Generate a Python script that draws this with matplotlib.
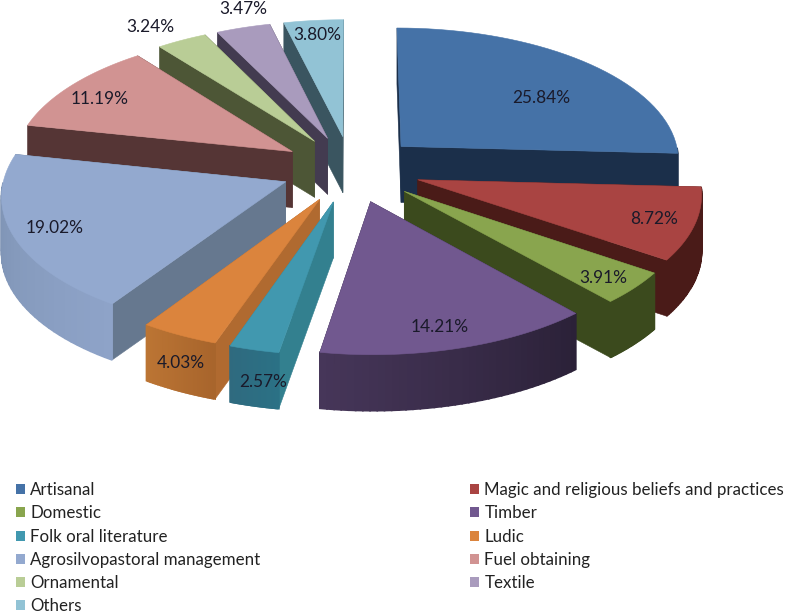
import numpy as np
import matplotlib
matplotlib.use("Agg")
import matplotlib.pyplot as plt
from matplotlib.patches import Patch, Polygon

plt.rcParams['font.family'] = ['Lato', 'DejaVu Sans']

# Data
categories = ["Artisanal", "Magic and religious beliefs and practices", "Domestic", "Timber",
              "Folk oral literature", "Ludic", "Agrosilvopastoral management", "Fuel obtaining",
              "Ornamental", "Textile", "Others"]
values = [25.84, 8.72, 3.91, 14.21, 2.57, 4.03, 19.02, 11.19, 3.24, 3.47, 3.80]

# Colours: top face, radial side, curved side (two ends)
top_colors = ['#4572A7', '#A94442', '#89A54E', '#71588F', '#4198AF', '#DB843D',
              '#93A9CF', '#D19392', '#B9CD96', '#A99BBD', '#92C3D5']
side_colors = ['#1B2F4A', '#4A1B18', '#3B4A1D', '#2E2440', '#33808F', '#B06A30',
               '#66788F', '#553535', '#4D5636', '#433B50', '#3A5560']
curve_a = ['#1B2F4A', '#4A1B18', '#3B4A1D', '#2B2138', '#2B7185', '#A8652C',
           '#8EA3C8', '#553535', '#4D5636', '#433B50', '#3A5560']
curve_b = ['#1B2F4A', '#4A1B18', '#3B4A1D', '#463659', '#2F6A7F', '#BC7534',
           '#7A8FAE', '#553535', '#4D5636', '#433B50', '#3A5560']
label_r = [0.68, 0.70, 0.80, 0.62, 0.85, 0.90, 0.72, 0.72, 1.10, 1.06, 0.85]
label_z = [0, 0, 0, 0, 0.5, 0.5, 0, 0, 0, 0, 0]
label_dx = [12, 44, 17, 16, -4, -14, -37, -31, -19, 5, 0]
label_dy = [9, 8, 10, 38, 28, 15, 8, -5, -4, -13, -2]

# Projection of the exploded 3D pie
cx, cy = 351, 169
rx, ry = 280, 133
persp = 0.09
depth = 56
explode = 0.25


def project(px, py, z=0.0):
    s = 1.0 / (1.0 - persp * py)
    return cx + rx * px * s, cy + ry * py * s + depth * z


def mix(c1, c2, t):
    a = np.array(matplotlib.colors.to_rgb(c1))
    b = np.array(matplotlib.colors.to_rgb(c2))
    return a + (b - a) * t


fig = plt.figure(figsize=(7.87, 6.13), dpi=100)
ax = fig.add_axes([0, 0, 1, 1])
ax.set_xlim(0, 787)
ax.set_ylim(613, 0)
ax.axis('off')

fractions = np.array(values) / sum(values)
ends = np.cumsum(fractions) * 2 * np.pi
starts = ends - fractions * 2 * np.pi
mids = (starts + ends) / 2


def add_face(points, color, lw=0.4):
    ax.add_patch(Polygon(points, closed=True, facecolor=color, edgecolor=color, linewidth=lw))


order = np.argsort(-np.cos(mids))
for i in order:
    ox, oy = explode * np.sin(mids[i]), -explode * np.cos(mids[i])
    angles = np.linspace(starts[i], ends[i], 40)
    rim = np.column_stack([ox + np.sin(angles), oy - np.cos(angles)])

    # walls first, those further back are covered by the ones in front
    walls = []
    for p, q in [((ox, oy), rim[0]), ((ox, oy), rim[-1])]:
        walls.append(((p[1] + q[1]) / 2, [project(p[0], p[1]), project(q[0], q[1]),
                                          project(q[0], q[1], 1), project(p[0], p[1], 1)], side_colors[i], 0.4))
    for j in range(len(rim) - 1):
        # the back of the rim is never seen
        if np.cos((angles[j] + angles[j + 1]) / 2) > 0.0:
            continue
        p, q = rim[j], rim[j + 1]
        walls.append(((p[1] + q[1]) / 2, [project(p[0], p[1]), project(q[0], q[1]),
                                          project(q[0], q[1], 1), project(p[0], p[1], 1)],
                      mix(curve_a[i], curve_b[i], j / (len(rim) - 2)), 1.2))
    for _, pts, col, lw in sorted(walls, key=lambda w: w[0]):
        add_face(pts, col, lw)

    top = [project(ox, oy)] + [project(p[0], p[1]) for p in rim]
    add_face(top, top_colors[i])

for i in range(len(values)):
    ox, oy = explode * np.sin(mids[i]), -explode * np.cos(mids[i])
    lx, ly = project(ox + label_r[i] * np.sin(mids[i]), oy - label_r[i] * np.cos(mids[i]), label_z[i])
    ax.text(lx + label_dx[i], ly + label_dy[i], f"{values[i]:.2f}%", ha='center', va='center',
            fontsize=12.4, color='#1a1a2a')

handles = [Patch(facecolor=c, edgecolor='none') for c in top_colors]
left = list(range(0, len(values), 2))
right = list(range(1, len(values), 2))
leg = ax.legend([handles[i] for i in left + right], [categories[i] for i in left + right],
                ncol=2, loc='upper left', bbox_to_anchor=(16 / 787, 1 - 482 / 613), frameon=False,
                fontsize=12.2, handlelength=0.53, handleheight=0.53, handletextpad=0.3,
                labelspacing=0.43, columnspacing=12.4, borderpad=0, borderaxespad=0,
                labelcolor='#222222')

fig.savefig("out.png", dpi=100)
